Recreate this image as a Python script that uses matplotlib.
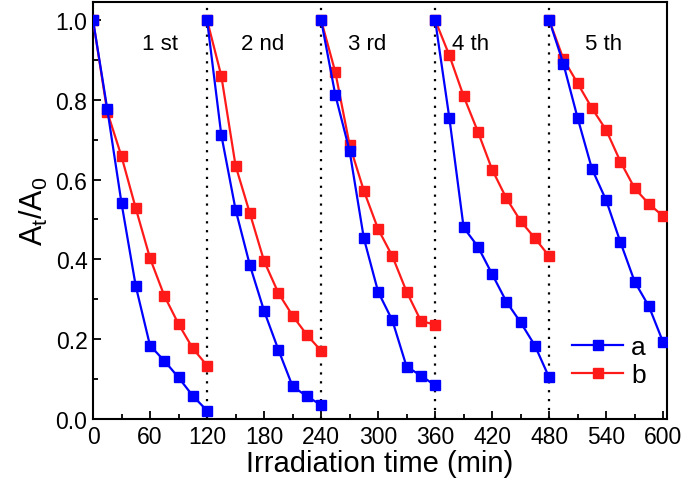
import matplotlib
matplotlib.use("Agg")
import matplotlib.pyplot as plt
import numpy as np

plt.rcParams['font.family'] = ['Liberation Sans', 'DejaVu Sans']

# time within each cycle (min) and cycle start times
t_cycle = [0, 15, 30, 45, 60, 75, 90, 105, 120]
cycle_starts = [0, 120, 240, 360, 480]
cycle_labels = ["1 st", "2 nd", "3 rd", "4 th", "5 th"]
cycle_label_x = [70, 178, 288, 397, 537]

# series a (blue), one list per cycle
a_vals = [
    [1.0, 0.777, 0.541, 0.333, 0.184, 0.146, 0.104, 0.058, 0.021],
    [1.0, 0.712, 0.525, 0.386, 0.271, 0.174, 0.082, 0.057, 0.035],
    [1.0, 0.812, 0.672, 0.453, 0.319, 0.247, 0.131, 0.109, 0.084],
    [1.0, 0.754, 0.480, 0.432, 0.363, 0.294, 0.242, 0.184, 0.104],
    [1.0, 0.890, 0.754, 0.627, 0.548, 0.443, 0.344, 0.282, 0.192],
]
# series b (red)
b_vals = [
    [1.0, 0.770, 0.658, 0.528, 0.403, 0.309, 0.238, 0.177, 0.134],
    [1.0, 0.860, 0.635, 0.516, 0.396, 0.316, 0.259, 0.211, 0.171],
    [1.0, 0.869, 0.687, 0.572, 0.476, 0.408, 0.319, 0.246, 0.236],
    [1.0, 0.911, 0.809, 0.720, 0.625, 0.553, 0.496, 0.453, 0.408],
    [1.0, 0.902, 0.841, 0.779, 0.724, 0.645, 0.578, 0.539, 0.508],
]

x_ticks = [0, 60, 120, 180, 240, 300, 360, 420, 480, 540, 600]
y_ticks = [0.0, 0.2, 0.4, 0.6, 0.8, 1.0]

fig = plt.figure(figsize=(6.85, 4.89), dpi=100)
ax = fig.add_axes([93/685, 1-420/489, (667-93)/685, (420-3)/489])

blue = '#0000FF'
red = '#FF1A1A'
for i, start in enumerate(cycle_starts):
    x = np.array(t_cycle) + start
    lr, = ax.plot(x, b_vals[i], '-s', color=red, lw=1.6, ms=7, mec=red, zorder=3)
    lbl, = ax.plot(x, a_vals[i], '-s', color=blue, lw=1.6, ms=7, mec=blue, zorder=3)
    if i == 0:
        line_b, line_a = lr, lbl
    ax.text(cycle_label_x[i], 0.94, cycle_labels[i], ha='center', va='center', fontsize=16)

for s in cycle_starts[1:]:
    ax.axvline(s, color='black', ls=(0, (1, 3)), lw=1.6, zorder=2)

ax.set_xlim(0, 604)
ax.set_ylim(0, 1.045)
ax.set_xticks(x_ticks)
ax.set_xticklabels([str(v) for v in x_ticks])
ax.set_yticks(y_ticks)
ax.set_yticklabels([f"{v:.1f}" for v in y_ticks])
ax.set_xticks(np.arange(30, 600, 60), minor=True)
ax.set_yticks(np.arange(0.1, 1.0, 0.2), minor=True)
ax.tick_params(which='major', direction='in', length=6, width=1.3, labelsize=16.5, top=False, right=False, pad=4)
ax.tick_params(which='minor', direction='in', length=3.5, width=1.3, top=False, right=False)
for sp in ax.spines.values():
    sp.set_linewidth(1.5)

ax.set_xlabel("Irradiation time (min)", fontsize=21, labelpad=1)
ax.set_ylabel(r"A$_\mathregular{t}$/A$_\mathregular{0}$", fontsize=22, labelpad=4)

ax.legend([line_a, line_b], ["a", "b"], loc='lower right', bbox_to_anchor=(1.005, 0.02),
          frameon=False, fontsize=19, handlelength=1.95, handletextpad=0.3, labelspacing=0.15)

fig.savefig("out.png", dpi=100)
